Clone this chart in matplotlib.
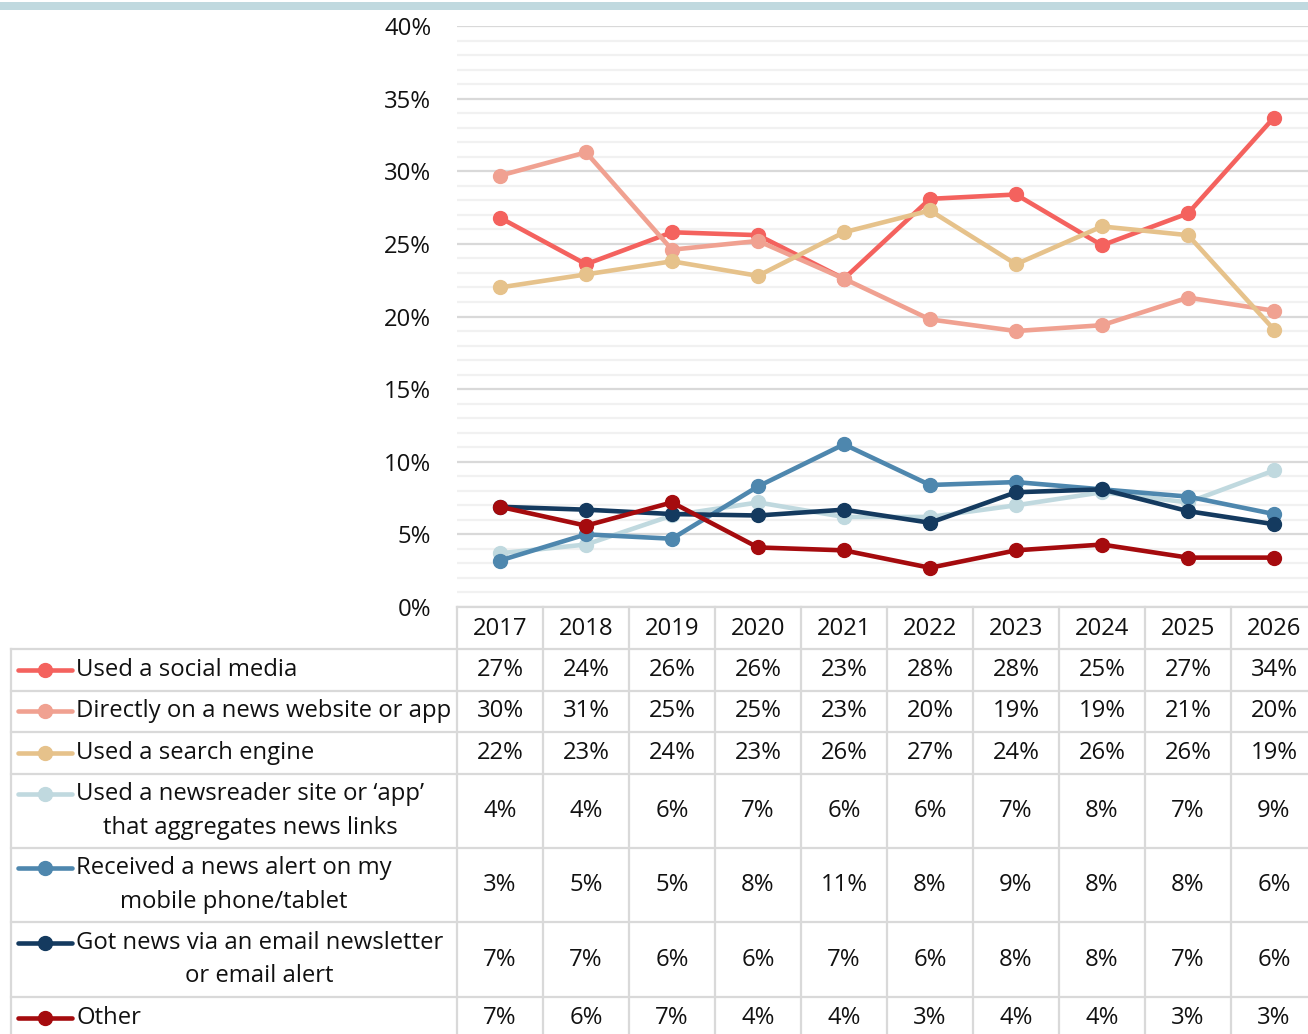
import matplotlib
matplotlib.use("Agg")
import matplotlib.pyplot as plt
import matplotlib.transforms as mtransforms
from matplotlib.ticker import MultipleLocator, FuncFormatter

plt.rcParams['font.family'] = ['Open Sans', 'DejaVu Sans']

# ---- data -------------------------------------------------------------
years = ["2017", "2018", "2019", "2020", "2021", "2022", "2023", "2024", "2025", "2026"]

series_names = [
    "Used a social media",
    "Directly on a news website or app",
    "Used a search engine",
    "Used a newsreader site or \u2018app\u2019\nthat aggregates news links",
    "Received a news alert on my\nmobile phone/tablet",
    "Got news via an email newsletter\nor email alert",
    "Other",
]

social_media = [26.8, 23.6, 25.8, 25.6, 22.6, 28.1, 28.4, 24.9, 27.1, 33.7]
news_website = [29.7, 31.3, 24.6, 25.2, 22.6, 19.8, 19.0, 19.4, 21.3, 20.4]
search_engine = [22.0, 22.9, 23.8, 22.8, 25.8, 27.3, 23.6, 26.2, 25.6, 19.1]
newsreader = [3.7, 4.3, 6.3, 7.2, 6.2, 6.2, 7.0, 7.9, 7.2, 9.4]
news_alert = [3.2, 5.0, 4.7, 8.3, 11.2, 8.4, 8.6, 8.1, 7.6, 6.4]
email_newsletter = [6.9, 6.7, 6.4, 6.3, 6.7, 5.8, 7.9, 8.1, 6.6, 5.7]
other = [6.9, 5.6, 7.2, 4.1, 3.9, 2.7, 3.9, 4.3, 3.4, 3.4]

all_series = [social_media, news_website, search_engine, newsreader,
              news_alert, email_newsletter, other]

colors = ["#F4625E", "#F0A191", "#E6C28B", "#C0D9DF", "#4E87AE", "#143A5F", "#A50B0E"]

# ---- figure layout (pixel based) --------------------------------------
W, H = 1308, 1034
fig = plt.figure(figsize=(W / 100, H / 100), dpi=100)
fig.patch.set_facecolor("white")

grid_major = "#D9D9D9"
grid_minor = "#F1F1F1"
border = "#D9D9D9"
text_color = "#111111"
fs = 17.2

# decorative band across the top
fig.add_artist(plt.Rectangle((0, (H - 10) / H), 1, 8 / H, transform=fig.transFigure,
                             facecolor="#C0D9DF", edgecolor="none"))

plot_left, plot_right = 457, 1317
plot_top, plot_bottom = 26, 607
ax = fig.add_axes([plot_left / W, (H - plot_bottom) / H,
                   (plot_right - plot_left) / W, (plot_bottom - plot_top) / H])
ax.set_xlim(-0.5, len(years) - 0.5)
ax.set_ylim(0, 40)
ax.yaxis.set_major_locator(MultipleLocator(5))
ax.yaxis.set_minor_locator(MultipleLocator(1))
ax.yaxis.set_major_formatter(FuncFormatter(lambda v, p: f"{v:.0f}%"))
ax.grid(which="minor", axis="y", color=grid_minor, linewidth=1.6, zorder=0)
ax.grid(which="major", axis="y", color=grid_major, linewidth=1.6, zorder=0)
ax.set_axisbelow(True)
ax.set_xticks([])
ax.tick_params(axis="y", which="both", length=0, pad=18.5, labelsize=fs, labelcolor=text_color)
for s in ax.spines.values():
    s.set_visible(False)
ax.patch.set_alpha(0)

x = list(range(len(years)))
for vals, col in zip(all_series, colors):
    ax.plot(x, vals, color=col, linewidth=3.3, marker="o", markersize=10,
            solid_capstyle="round", clip_on=False, zorder=3)

# ---- data table below the plot ---------------------------------------
table_left = 11
tax = fig.add_axes([table_left / W, 0, (plot_right - table_left) / W, (H - plot_bottom) / H])
tax.set_xlim(table_left, plot_right)
tax.set_ylim(H, plot_bottom)
tax.axis("off")

# x in category units of the plot, y in table pixels
col_tr = mtransforms.blended_transform_factory(ax.transData, tax.transData)

header_bottom = 649
row_edges = [649, 690.5, 732, 774, 848, 922, 997, 1039]

lw_b = 1.6
# header row
tax.plot([plot_left, plot_right], [plot_bottom, plot_bottom], color=border, lw=lw_b, clip_on=False)
for i, yr in enumerate(years):
    tax.text(i, (plot_bottom + header_bottom) / 2 + 1, yr, transform=col_tr, ha="center",
             va="center", fontsize=fs, color=text_color)

# horizontal rules
for yy in row_edges:
    tax.plot([table_left, plot_right], [yy, yy], color=border, lw=lw_b, clip_on=False)

# vertical rules
tax.plot([table_left, table_left], [header_bottom, row_edges[-1]], color=border, lw=lw_b, clip_on=False)
for i in range(len(years) + 1):
    tax.plot([i - 0.5, i - 0.5], [plot_bottom, row_edges[-1]], transform=col_tr,
             color=border, lw=lw_b, clip_on=False)

# rows: legend key, label and values
key_x0, key_x1, key_mid, label_x = 18, 72, 45, 76
for r, (name, vals, col) in enumerate(zip(series_names, all_series, colors)):
    top, bot = row_edges[r], row_edges[r + 1]
    yc = (top + bot) / 2
    if r == len(series_names) - 1:
        yc = 1018
    n_lines = name.count("\n") + 1
    key_y = yc - (n_lines - 1) * 17
    tax.plot([key_x0, key_x1], [key_y, key_y], color=col, lw=3.3, solid_capstyle="round",
             clip_on=False)
    tax.plot([key_mid], [key_y], marker="o", color=col, markersize=10, clip_on=False)
    tax.text(label_x, yc, name, ha="left", va="center", multialignment="center",
             fontsize=fs, color=text_color, linespacing=1.5)
    for i, v in enumerate(vals):
        tax.text(i, yc, f"{v:.0f}%", transform=col_tr, ha="center", va="center",
                 fontsize=fs, color=text_color)

fig.savefig("out.png", dpi=100, facecolor="white")
